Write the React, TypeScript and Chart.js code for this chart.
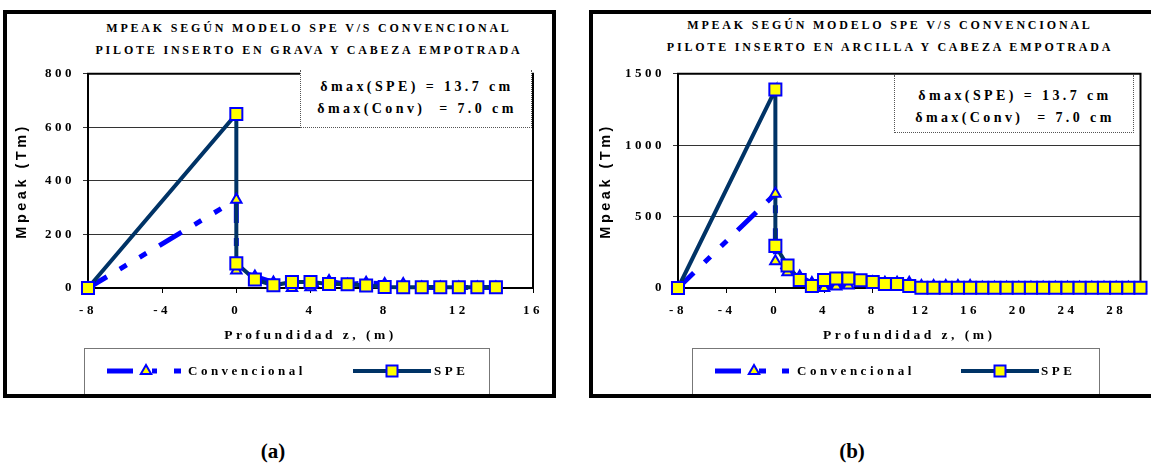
import React, { useEffect, useRef } from 'react';
import { Chart, registerables } from 'chart.js';

Chart.register(...registerables);

const SERIF = "'Liberation Serif', 'DejaVu Serif', 'Times New Roman', serif";
const SANS = "'Liberation Sans', Arial, sans-serif";
const BLUE = '#0000FF';
const NAVY = '#003366';
const YELLOW = '#FFFF00';

// ---------- data (a) grava ----------
const depthA = [-8, 0, 0, 1, 2, 3, 4, 5, 6, 7, 8, 9, 10, 11, 12, 13, 14];
const speA = [0, 650, 92, 32, 10, 22, 22, 15, 14, 9, 4, 3, 3, 3, 3, 3, 3];
const convA = [0, 330, 65, 43, 21, 0, 3, 26, 12, 20, 15, 15, 2, 2, 2, 2, 2];
const xTicksA = [-8, -4, 0, 4, 8, 12, 16];
const yTicksA = [0, 200, 400, 600, 800];

// ---------- data (b) arcilla ----------
const depthB = [-8, 0, 0, 1, 2, 3, 4, 5, 6, 7, 8, 9, 10, 11, 12, 13, 14, 15, 16, 17, 18, 19, 20, 21, 22, 23, 24, 25, 26, 27, 28, 29, 30];
const speB = [0, 1390, 295, 158, 56, 14, 56, 67, 67, 54, 42, 28, 28, 14, 1, 1, 1, 1, 1, 1, 1, 1, 1, 1, 1, 1, 1, 1, 1, 1, 1, 1, 1];
const convB = [0, 660, 188, 110, 80, 35, 0, 10, 18, 40, 40, 37, 37, 37, 14, 14, 14, 14, 14, 1, 1, 1, 1, 1, 1, 1, 1, 1, 1, 1, 1, 1, 1];
const xTicksB = [-8, -4, 0, 4, 8, 12, 16, 20, 24, 28];
const yTicksB = [0, 500, 1000, 1500];

const seriesNames = ['Convencional', 'SPE'];
const titlesA = ['MPEAK SEGÚN MODELO SPE V/S CONVENCIONAL', 'PILOTE INSERTO EN GRAVA Y CABEZA EMPOTRADA'];
const titlesB = ['MPEAK SEGÚN MODELO SPE V/S CONVENCIONAL', 'PILOTE INSERTO EN ARCILLA Y CABEZA EMPOTRADA'];
const noteLines = ['δmax(SPE) = 13.7 cm', 'δmax(Conv)  = 7.0 cm'];
const xTitle = 'Profundidad z, (m)';
const yTitle = 'Mpeak (Tm)';

const zip = (xs: number[], ys: number[]) => xs.map((x, i) => ({ x, y: ys[i] }));

const spacingPlugin = {
  id: 'spacing',
  beforeUpdate(chart: any) { chart.ctx.letterSpacing = '3.5px'; },
  beforeDraw(chart: any) { chart.ctx.letterSpacing = '3.5px'; },
};

const framePlugin = {
  id: 'plotFrame',
  beforeDatasetsDraw(chart: any) {
    const { ctx, chartArea } = chart;
    const { left, top, right, bottom } = chartArea;
    ctx.save();
    ctx.strokeStyle = '#000';
    ctx.lineWidth = 2;
    ctx.beginPath();
    ctx.moveTo(left - 1, top);
    ctx.lineTo(right, top);
    ctx.lineTo(right, bottom + 1);
    ctx.stroke();
    ctx.restore();
  },
};

type PanelProps = {
  depth: number[]; spe: number[]; conv: number[];
  xMin: number; xMax: number; yMax: number;
  xTicks: number[]; yTicks: number[];
  left: number; top: number; width: number; height: number;
  padRight: number; padTop: number; yAxisWidth: number; yTitlePad: number;
};

function ChartPanel(p: PanelProps) {
  const ref = useRef<HTMLCanvasElement | null>(null);
  useEffect(() => {
    if (!ref.current) return;
    const convPts = zip(p.depth, p.conv);
    const spePts = zip(p.depth, p.spe);
    const tickFont = { family: SERIF, weight: 'bold' as const, size: 13 };
    const chart = new Chart(ref.current, {
      type: 'scatter',
      data: {
        datasets: [
          {
            label: seriesNames[0], data: convPts, showLine: true, borderColor: BLUE, borderWidth: 5,
            borderDash: [26, 15, 8, 15, 8, 15], borderDashOffset: 4, borderCapStyle: 'butt',
            pointRadius: 0, order: 4, clip: false as any,
          },
          {
            label: seriesNames[1], data: spePts, showLine: true, borderColor: NAVY, borderWidth: 4,
            pointRadius: 0, order: 3, clip: false as any,
          },
          {
            label: seriesNames[0], data: convPts, showLine: false, pointStyle: 'triangle', pointRadius: 6,
            pointBackgroundColor: YELLOW, pointBorderColor: BLUE, pointBorderWidth: 2, order: 2, clip: false as any,
          },
          {
            label: seriesNames[1], data: spePts, showLine: false, pointStyle: 'rect', pointRadius: 8.5,
            pointBackgroundColor: YELLOW, pointBorderColor: BLUE, pointBorderWidth: 2, order: 1, clip: false as any,
          },
        ] as any,
      },
      options: {
        responsive: false,
        animation: false,
        layout: { padding: { left: 0, right: p.padRight, top: p.padTop, bottom: 5 } },
        plugins: { legend: { display: false }, tooltip: { enabled: false }, title: { display: false } },
        scales: {
          x: {
            type: 'linear', min: p.xMin, max: p.xMax,
            afterBuildTicks: (s: any) => { s.ticks = p.xTicks.map((v) => ({ value: v })); },
            afterFit: (s: any) => { s.height = 57; },
            grid: { display: true, drawOnChartArea: false, drawTicks: true, tickLength: 5, color: '#000', lineWidth: 1 },
            border: { color: '#000', width: 2 },
            ticks: { font: tickFont, color: '#000', padding: 10, maxRotation: 0, autoSkip: false, includeBounds: false, callback: (v: any) => String(v) },
            title: { display: true, text: xTitle, font: { family: SERIF, weight: 'bold', size: 13.5 }, color: '#000', padding: { top: 0, bottom: 1 } },
          },
          y: {
            type: 'linear', min: 0, max: p.yMax,
            afterBuildTicks: (s: any) => { s.ticks = p.yTicks.map((v) => ({ value: v })); },
            afterFit: (s: any) => { s.width = p.yAxisWidth; },
            grid: { color: '#333', lineWidth: 1, drawTicks: true, tickLength: 5 },
            border: { color: '#000', width: 2 },
            ticks: { font: tickFont, color: '#000', padding: 8, callback: (v: any) => String(v) },
            title: { display: true, text: yTitle, font: { family: SANS, weight: 'bold', size: 14.5 }, color: '#000', padding: { top: p.yTitlePad, bottom: 0 } },
          },
        },
      } as any,
      plugins: [spacingPlugin, framePlugin],
    });
    return () => chart.destroy();
  }, []);
  return (
    <canvas
      ref={ref}
      width={p.width}
      height={p.height}
      style={{ position: 'absolute', left: p.left, top: p.top, width: p.width, height: p.height }}
    />
  );
}

const abs = (o: any) => ({ position: 'absolute' as const, ...o });

function Titles({ cx, y1, y2, lines }: { cx: number; y1: number; y2: number; lines: string[] }) {
  const st = { fontFamily: SERIF, fontWeight: 'bold' as const, fontSize: 12, letterSpacing: '2.8px', textAlign: 'center' as const, lineHeight: '14px', whiteSpace: 'pre' as const, color: '#000' };
  return (
    <>
      <div style={abs({ left: cx - 300, width: 600, top: y1 - 7, ...st })}>{lines[0]}</div>
      <div style={abs({ left: cx - 300, width: 600, top: y2 - 7, ...st })}>{lines[1]}</div>
    </>
  );
}

function Note({ left, top, width, height, y1, y2 }: any) {
  const st = { fontFamily: SERIF, fontWeight: 'bold' as const, fontSize: 14, letterSpacing: '3.4px', textAlign: 'center' as const, lineHeight: '16px', whiteSpace: 'pre' as const, color: '#000', left: 0, width: width };
  return (
    <div style={abs({ left, top, width, height, background: '#fff', borderLeft: '1px dotted #555', borderRight: '1px dotted #555', borderBottom: '1px dotted #555', boxSizing: 'border-box', zIndex: 2 })}>
      <div style={abs({ ...st, top: y1 - top - 8 })}>{noteLines[0]}</div>
      <div style={abs({ ...st, top: y2 - top - 8 })}>{noteLines[1]}</div>
    </div>
  );
}

function Legend({ left, right, long, tri, dashes, convText, speLine, sq, speText }: any) {
  const top = 348;
  const cy = 371;
  const txt = { fontFamily: SERIF, fontWeight: 'bold' as const, fontSize: 13, letterSpacing: '3.5px', lineHeight: '16px', whiteSpace: 'pre' as const, color: '#000' };
  const tr = 6;
  const triPts = `${tri},${cy - tr} ${tri + tr * 0.866},${cy + tr / 2} ${tri - tr * 0.866},${cy + tr / 2}`;
  return (
    <>
      <div style={abs({ left, top, width: right - left, height: 397 - top, border: '1px solid #777', boxSizing: 'border-box', background: '#fff', zIndex: 2 })} />
      <svg width={1151} height={465} style={abs({ left: 0, top: 0, zIndex: 3, overflow: 'visible' })}>
        <line x1={long[0]} y1={cy} x2={long[1]} y2={cy} stroke={BLUE} strokeWidth={5} />
        {dashes.map((d: number[], i: number) => (
          <line key={i} x1={d[0]} y1={cy} x2={d[1]} y2={cy} stroke={BLUE} strokeWidth={5} />
        ))}
        <polygon points={triPts} fill={YELLOW} stroke={BLUE} strokeWidth={2} />
        <line x1={speLine[0]} y1={cy} x2={speLine[1]} y2={cy} stroke={NAVY} strokeWidth={4} />
        <rect x={sq - 5.5} y={cy - 5.5} width={11} height={11} fill={YELLOW} stroke={BLUE} strokeWidth={2} />
      </svg>
      <div style={abs({ left: convText, top: cy - 8, zIndex: 3, ...txt })}>{seriesNames[0]}</div>
      <div style={abs({ left: speText, top: cy - 8, zIndex: 3, ...txt })}>{seriesNames[1]}</div>
    </>
  );
}

export default function App() {
  return (
    <div style={abs({ left: 0, top: 0, width: 1151, height: 465, background: '#fff', overflow: 'hidden' })}>
      {/* panel (a) */}
      <ChartPanel depth={depthA} spe={speA} conv={convA} xMin={-8} xMax={16} yMax={800}
        xTicks={xTicksA} yTicks={yTicksA} left={8} top={58} width={545} height={292}
        padRight={15} padTop={11} yAxisWidth={80} yTitlePad={5.3} />
      <Titles cx={309} y1={28} y2={50} lines={titlesA} />
      <Note left={300} top={70} width={232} height={58} y1={87} y2={109} />
      <Legend left={84} right={490} long={[107, 133]} tri={146} dashes={[[152, 157], [174, 181]]}
        convText={188} speLine={[353, 431]} sq={392} speText={434} />
      <div style={abs({ left: 3, top: 10, width: 553, height: 388, border: '4px solid #000', boxSizing: 'border-box', zIndex: 5 })} />

      {/* panel (b) */}
      <ChartPanel depth={depthB} spe={speB} conv={convB} xMin={-8} xMax={30} yMax={1500}
        xTicks={xTicksB} yTicks={yTicksB} left={594} top={58} width={557} height={292}
        padRight={8} padTop={15} yAxisWidth={84} yTitlePad={2.8} />
      <Titles cx={890} y1={25} y2={47} lines={titlesB} />
      <Note left={894} top={75} width={240} height={58} y1={96} y2={118} />
      <Legend left={692} right={1100} long={[715, 741]} tri={754} dashes={[[759, 766], [782, 789]]}
        convText={797} speLine={[961, 1039]} sq={1000} speText={1041} />
      <div style={abs({ left: 589, top: 10, width: 620, height: 388, border: '4px solid #000', boxSizing: 'border-box', zIndex: 5 })} />

      {/* captions */}
      <div style={abs({ left: 223, width: 100, top: 438, textAlign: 'center', fontFamily: SERIF, fontWeight: 'bold', fontSize: 21, lineHeight: '26px' })}>(a)</div>
      <div style={abs({ left: 802, width: 100, top: 438, textAlign: 'center', fontFamily: SERIF, fontWeight: 'bold', fontSize: 21, lineHeight: '26px' })}>(b)</div>
    </div>
  );
}
